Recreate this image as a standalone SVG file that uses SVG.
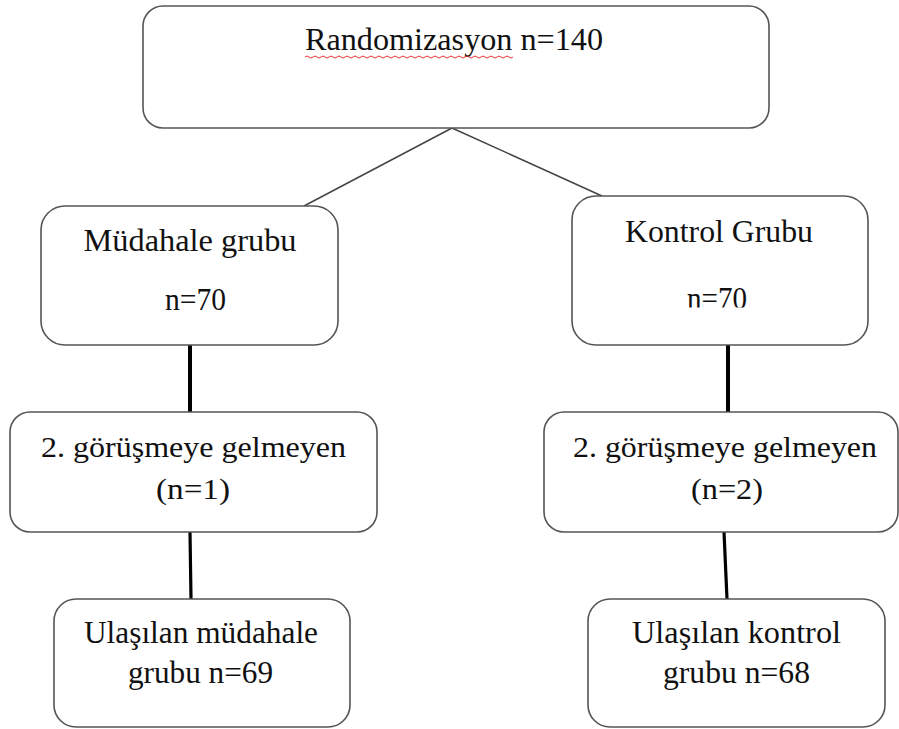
<svg xmlns="http://www.w3.org/2000/svg" width="899" height="729" viewBox="0 0 899 729">
<style>
.box{fill:#fff;stroke:#555;stroke-width:1.6}
.t{font-family:"Liberation Serif","Times New Roman",serif;font-size:31px;fill:#111;text-anchor:middle}
.s{font-size:30px}
.thin{stroke:#444;stroke-width:1.5;fill:none}
.thick{stroke:#000;stroke-width:4;fill:none}
.mid{stroke:#000;stroke-width:3.2;fill:none}
</style>
<defs>
<clipPath id="clipK"><rect x="560" y="200" width="320" height="107.5"/></clipPath>
</defs>
<rect width="899" height="729" fill="#fff"/>
<g id="connectors">
<line class="thin" x1="452" y1="128" x2="304" y2="206"/>
<line class="thin" x1="452" y1="128" x2="602" y2="196"/>
<line class="thick" x1="190" y1="345" x2="190" y2="412"/>
<line class="mid" x1="190" y1="532" x2="191" y2="599"/>
<line class="thick" x1="728" y1="345" x2="728" y2="412"/>
<line class="mid" x1="724" y1="532" x2="727" y2="599"/>
</g>
<g id="randomizasyon">
<rect class="box" x="143" y="6" width="626" height="122" rx="20"/>
<text class="t" x="454" y="50" textLength="298" lengthAdjust="spacingAndGlyphs">Randomizasyon n=140</text>
<path d="M305 57 q2 -2 4 0 t4 0 t4 0 t4 0 t4 0 t4 0 t4 0 t4 0 t4 0 t4 0 t4 0 t4 0 t4 0 t4 0 t4 0 t4 0 t4 0 t4 0 t4 0 t4 0 t4 0 t4 0 t4 0 t4 0 t4 0 t4 0 t4 0 t4 0 t4 0 t4 0 t4 0 t4 0 t4 0 t4 0 t4 0 t4 0 t4 0 t4 0 t4 0 t4 0 t4 0 t4 0 t4 0 t4 0 t4 0 t4 0 t4 0 t4 0 t4 0 t4 0 t4 0 t4 0" fill="none" stroke="#e33" stroke-width="1"/>
</g>
<g id="mudahale">
<rect class="box" x="41" y="206" width="297" height="139" rx="24"/>
<text class="t" x="190" y="251" textLength="213" lengthAdjust="spacingAndGlyphs">Müdahale grubu</text>
<text class="t" x="195.5" y="310" textLength="61" lengthAdjust="spacingAndGlyphs">n=70</text>
</g>
<g id="kontrol">
<rect class="box" x="572" y="196" width="296" height="149" rx="24"/>
<text class="t" x="719" y="242" textLength="188" lengthAdjust="spacingAndGlyphs">Kontrol Grubu</text>
<text class="t" x="717" y="309" textLength="60" lengthAdjust="spacingAndGlyphs" clip-path="url(#clipK)">n=70</text>
</g>
<g id="gelmeyen-mudahale">
<rect class="box" x="10" y="412" width="367" height="120" rx="20"/>
<text class="t s" x="193.5" y="457" textLength="305" lengthAdjust="spacingAndGlyphs">2. görüşmeye gelmeyen</text>
<text class="t s" x="193" y="499" textLength="74" lengthAdjust="spacingAndGlyphs">(n=1)</text>
</g>
<g id="gelmeyen-kontrol">
<rect class="box" x="544" y="412" width="354" height="120" rx="20"/>
<text class="t s" x="725" y="457" textLength="304" lengthAdjust="spacingAndGlyphs">2. görüşmeye gelmeyen</text>
<text class="t s" x="727" y="499" textLength="72" lengthAdjust="spacingAndGlyphs">(n=2)</text>
</g>
<g id="ulasilan-mudahale">
<rect class="box" x="54" y="599" width="296" height="128" rx="22"/>
<text class="t" x="201" y="643" textLength="234" lengthAdjust="spacingAndGlyphs">Ulaşılan müdahale</text>
<text class="t" x="200.5" y="683" textLength="145" lengthAdjust="spacingAndGlyphs">grubu n=69</text>
</g>
<g id="ulasilan-kontrol">
<rect class="box" x="588" y="599" width="297" height="128" rx="22"/>
<text class="t" x="736.5" y="643" textLength="209" lengthAdjust="spacingAndGlyphs">Ulaşılan kontrol</text>
<text class="t" x="736.5" y="683" textLength="147" lengthAdjust="spacingAndGlyphs">grubu n=68</text>
</g>
</svg>
